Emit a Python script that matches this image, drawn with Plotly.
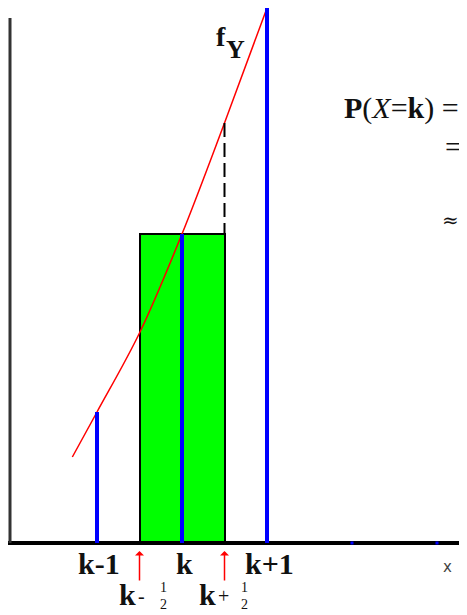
import plotly.graph_objects as go

# ---- data ----
categories = ["k-1", "k", "k+1", "k+2", "k+3"]
positions = [-1, 0, 1, 2, 3]
pmf_heights = [1.31, 3.09, 5.35, 0.0, 0.0]

curve_x = [-1.29, -1.0, -0.5, 0.0, 0.5, 1.0]
curve_y = [0.86, 1.31, 2.10, 3.09, 4.20, 5.35]

bar_center = [0]
bar_height = [3.09]
bar_width = 1.0

half_points = [-0.5, 0.5]
half_signs = ["-", "+"]

# ---- geometry helpers (reference pixel -> data) ----
W, H = 467, 615          # browser window
OFF = 8                  # default page body margin
X0PX, XSCALE = 182.0, 85.0   # data x=0 at px 182, 85 px per unit
Y0PX, YSCALE = 543.0, 100.0  # data y=0 at px 543, 100 px per unit


def dx(px):
    return (px - X0PX) / XSCALE


def dy(py):
    return (Y0PX - py) / YSCALE


fig = go.Figure()

# green rectangle (continuity correction bar)
fig.add_trace(go.Bar(x=bar_center, y=bar_height, width=bar_width,
                     marker=dict(color="#00ff00", line=dict(color="black", width=2)),
                     hoverinfo="skip"))

# red density curve
fig.add_trace(go.Scatter(x=curve_x, y=curve_y, mode="lines",
                         line=dict(color="#ff0000", width=1.5, shape="spline"),
                         hoverinfo="skip"))

# dashed line at k+1/2
fig.add_trace(go.Scatter(x=[half_points[1], half_points[1]], y=[curve_y[4], bar_height[0]],
                         mode="lines", line=dict(color="black", width=2, dash="14px,6px"),
                         hoverinfo="skip"))

# x axis line and y axis line
fig.add_trace(go.Scatter(x=[dx(8), dx(W + 5)], y=[0, 0], mode="lines",
                         line=dict(color="black", width=4), hoverinfo="skip"))
fig.add_trace(go.Scatter(x=[dx(10), dx(10)], y=[0, dy(18)], mode="lines",
                         line=dict(color="#333333", width=3), hoverinfo="skip"))

# blue pmf spikes
sx, sy = [], []
for p, h in zip(positions, pmf_heights):
    if h > 0:
        sx += [p, p, None]
        sy += [0, h, None]
fig.add_trace(go.Scatter(x=sx, y=sy, mode="lines",
                         line=dict(color="#0000ff", width=4), hoverinfo="skip"))
zx = [p for p, h in zip(positions, pmf_heights) if h == 0]
fig.add_trace(go.Scatter(x=zx, y=[0] * len(zx), mode="markers",
                         marker=dict(color="#0000ff", size=3, symbol="square"),
                         hoverinfo="skip"))

SERIF = "Liberation Serif"
INK = "#111111"
ann = []
# tick labels k-1, k, k+1
for p, lab, h in zip(positions, categories, pmf_heights):
    if h > 0:
        ann.append(dict(x=p, y=dy(563), xref="x", yref="y", text="<b>%s</b>" % lab,
                        showarrow=False, xshift=2,
                        font=dict(family=SERIF, size=30, color=INK),
                        xanchor="center", yanchor="middle"))

# red arrows and half labels
k_off = {"-": -12, "+": -17}
s_off = {"-": 2, "+": -1}
f_off = {"-": 24, "+": 20}
for hp, sign in zip(half_points, half_signs):
    ann.append(dict(x=hp, y=dy(551), xref="x", yref="y", text="", showarrow=True,
                    ax=0, ay=31, arrowcolor="#ff0000", arrowwidth=1.5,
                    arrowhead=1, arrowsize=1))
    xp = X0PX + hp * XSCALE
    ann.append(dict(x=dx(xp + k_off[sign]), y=dy(594), xref="x", yref="y", text="<b>k</b>",
                    showarrow=False, font=dict(family=SERIF, size=30, color=INK),
                    xanchor="center", yanchor="middle"))
    ann.append(dict(x=dx(xp + s_off[sign]), y=dy(596), xref="x", yref="y", text=sign,
                    showarrow=False, font=dict(family=SERIF, size=20, color=INK),
                    xanchor="center", yanchor="middle"))
    ann.append(dict(x=dx(xp + f_off[sign]), y=dy(587), xref="x", yref="y", text="1",
                    showarrow=False, font=dict(family=SERIF, size=14, color=INK),
                    xanchor="center", yanchor="middle"))
    ann.append(dict(x=dx(xp + f_off[sign]), y=dy(604), xref="x", yref="y", text="2",
                    showarrow=False, font=dict(family=SERIF, size=14, color=INK),
                    xanchor="center", yanchor="middle"))

# f_Y label
ann.append(dict(x=dx(221), y=dy(36), xref="x", yref="y", text="<b>f</b>",
                showarrow=False, font=dict(family=SERIF, size=28, color=INK),
                xanchor="center", yanchor="middle"))
ann.append(dict(x=dx(235), y=dy(49), xref="x", yref="y", text="<b>Y</b>",
                showarrow=False, font=dict(family=SERIF, size=26, color=INK),
                xanchor="center", yanchor="middle"))

# right side formula fragments
ann.append(dict(x=dx(342), y=dy(108), xref="x", yref="y",
                text="<b>P</b>(<i>X</i>=<b>k</b>) =",
                showarrow=False, font=dict(family=SERIF, size=30, color=INK),
                xanchor="left", yanchor="middle"))
ann.append(dict(x=dx(453), y=dy(146), xref="x", yref="y", text="=",
                showarrow=False, font=dict(family=SERIF, size=30, color=INK),
                xanchor="center", yanchor="middle"))
ann.append(dict(x=dx(450), y=dy(220), xref="x", yref="y", text="≈",
                showarrow=False, font=dict(family="DejaVu Serif", size=20, color=INK),
                xanchor="center", yanchor="middle"))
ann.append(dict(x=dx(472), y=dy(316), xref="x", yref="y", text="=",
                showarrow=False, font=dict(family=SERIF, size=24, color=INK),
                xanchor="center", yanchor="middle"))

# x axis label
ann.append(dict(x=dx(447), y=dy(567), xref="x", yref="y", text="x",
                showarrow=False, font=dict(family="DejaVu Sans", size=15, color="#444444"),
                xanchor="center", yanchor="middle"))

fig.update_layout(
    width=W - OFF, height=H - OFF,
    margin=dict(l=0, r=0, t=0, b=0),
    paper_bgcolor="white", plot_bgcolor="white",
    showlegend=False,
    xaxis=dict(range=[dx(OFF), dx(W)], visible=False, fixedrange=True),
    yaxis=dict(range=[dy(H), dy(OFF)], visible=False, fixedrange=True),
    annotations=ann,
    bargap=0,
)

fig.write_html("out.html")
